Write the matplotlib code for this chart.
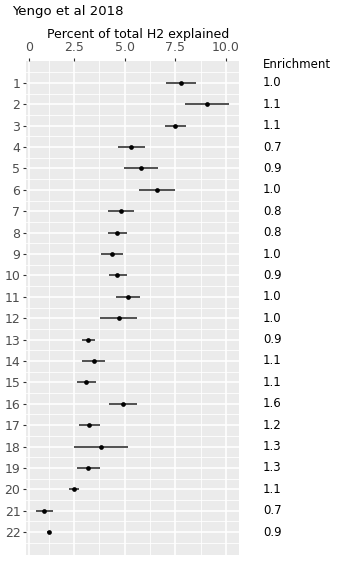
import numpy as np
import matplotlib
matplotlib.use("Agg")
import matplotlib.pyplot as plt

# percent of total H2 explained per chromosome, with interval bounds
chrom = list(range(1, 23))
pct = [7.76, 9.05, 7.50, 5.33, 5.79, 6.61, 4.80, 4.64, 4.39, 4.64, 5.16,
       4.70, 3.19, 3.47, 3.09, 4.92, 3.24, 3.82, 3.19, 2.49, 1.02, 1.27]
lo = [7.02, 7.96, 6.97, 4.69, 4.95, 5.70, 4.16, 4.16, 3.85, 4.23, 4.57,
      3.80, 2.88, 2.88, 2.64, 4.23, 2.72, 2.50, 2.64, 2.24, 0.60, 1.17]
hi = [8.51, 10.17, 8.05, 5.99, 6.64, 7.51, 5.44, 5.13, 4.94, 5.10, 5.77,
      5.61, 3.54, 4.05, 3.59, 5.61, 3.78, 5.15, 3.78, 2.72, 1.47, 1.37]
enrich = ["1.0", "1.1", "1.1", "0.7", "0.9", "1.0", "0.8", "0.8", "1.0", "0.9", "1.0",
          "1.0", "0.9", "1.1", "1.1", "1.6", "1.2", "1.3", "1.3", "1.1", "0.7", "0.9"]
x_breaks = [0.29, 2.5, 5.0, 7.5, 10.0]
x_labels = ["0", "2.5", "5.0", "7.5", "10.0"]

W, H = 342, 563
fig = plt.figure(figsize=(W / 100, H / 100), dpi=100)
left, right, top, bottom = 26, 239, 60.5, 554.5
ax = fig.add_axes([left / W, 1 - bottom / H, (right - left) / W, (bottom - top) / H])
ax.set_facecolor("#EBEBEB")
for s in ax.spines.values():
    s.set_visible(False)

# ggplot-style 5% expansion
xr = max(hi) - min(lo)
ax.set_xlim(min(lo) - 0.05 * xr, max(hi) + 0.05 * xr)
yr = chrom[-1] - chrom[0]
ax.set_ylim(chrom[-1] + 0.05 * yr, chrom[0] - 0.05 * yr)

# grid
for v in [1.25, 3.75, 6.25, 8.75]:
    ax.axvline(v, color="white", lw=0.6, zorder=0)
for v in x_breaks:
    ax.axvline(v, color="white", lw=1.2, zorder=0)
for v in np.arange(0.5, 23, 1.0):
    ax.axhline(v, color="white", lw=0.6, zorder=0)
for v in chrom:
    ax.axhline(v, color="white", lw=1.2, zorder=0)

ax.hlines(chrom, lo, hi, color="#333333", lw=1.2, zorder=2)
ax.plot(pct, chrom, "o", color="black", ms=3.4, mew=0, zorder=3)

ax.xaxis.tick_top()
ax.xaxis.set_label_position("top")
ax.set_xticks(x_breaks)
ax.set_xticklabels(x_labels)
ax.set_yticks(chrom)
ax.set_yticklabels([str(c) for c in chrom])
ax.tick_params(axis="both", length=2, width=0.8, color="#333333",
               labelcolor="#4D4D4D", labelsize=9)
ax.tick_params(axis="x", pad=2.5)
ax.tick_params(axis="y", pad=2)

fig.text(138 / W, 1 - 34.5 / H, "Percent of total H2 explained",
         ha="center", va="center", fontsize=9, color="black")
fig.text(12 / W, 1 - 12 / H, "Yengo et al 2018", ha="left", va="center",
         fontsize=9.5, color="black")

# enrichment column on the right
tx = ax.get_yaxis_transform()
xcol = (263 - left) / (right - left)
ax.text(xcol, chrom[0] - 0.85, "Enrichment", transform=tx, ha="left",
        va="center", fontsize=8.5, color="black", clip_on=False)
for c, e in zip(chrom, enrich):
    ax.text(xcol, c, e, transform=tx, ha="left", va="center",
            fontsize=8.5, color="black", clip_on=False)

fig.savefig("out.png", dpi=100)
